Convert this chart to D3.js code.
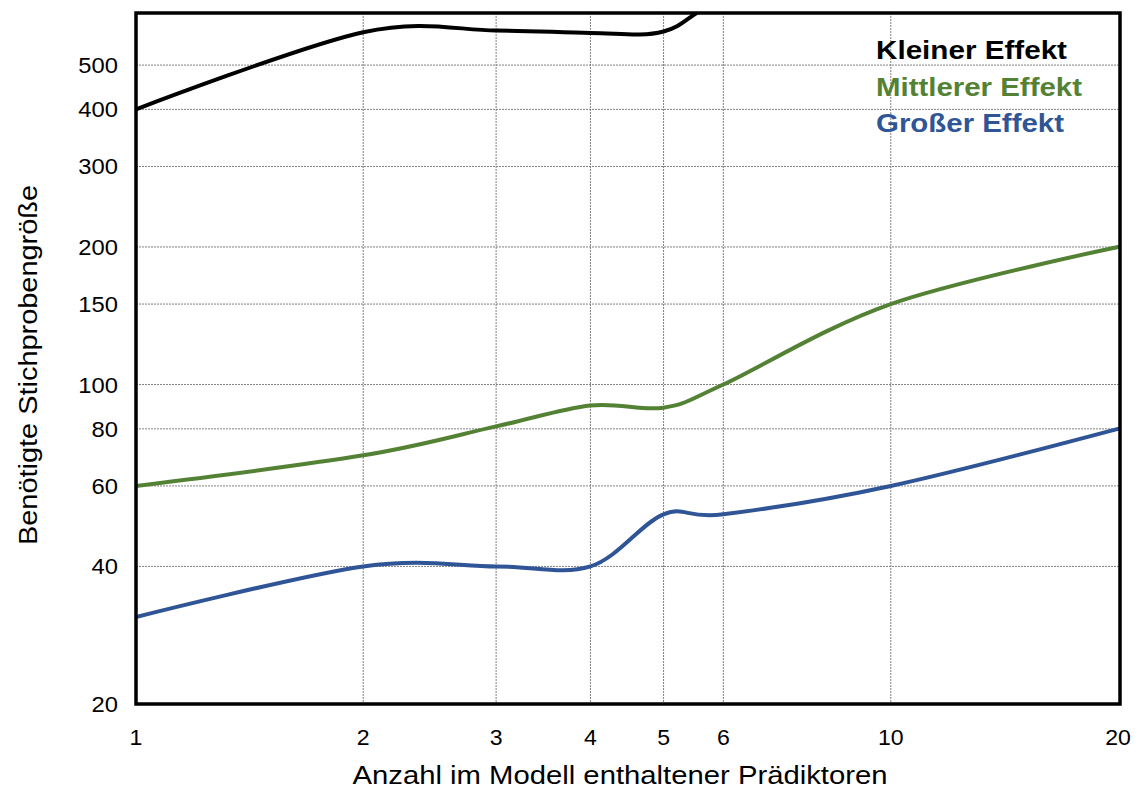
<!DOCTYPE html>
<html>
<head>
<meta charset="utf-8">
<script src="https://cdn.jsdelivr.net/npm/d3@7"></script>
<style>
    body { margin: 0; background: #fff; }
    text { font-family: "Liberation Sans", Arial, sans-serif; }
</style>
</head>
<body>
<div id="chart"></div>
<script>

// data (clipped values of the black line are guesses)
const predictors   = [1, 2, 3, 4, 5, 6, 10, 20];
const smallEffect  = [400, 590, 595, 588, 592, 700, 1000, 1500];
const mediumEffect = [60, 70, 81, 90, 89, 100, 150, 200];
const largeEffect  = [31, 40, 40, 40, 52, 52, 60, 80];

const xTicks = [1, 2, 3, 4, 5, 6, 10, 20];
const yTicks = [20, 40, 60, 80, 100, 150, 200, 300, 400, 500];

const seriesNames  = ["Kleiner Effekt", "Mittlerer Effekt", "Großer Effekt"];
const seriesColors = ["#000000", "#548235", "#2f5597"];
const legendWidths = [191, 206, 188];

const xTitle = "Anzahl im Modell enthaltener Prädiktoren";
const yTitle = "Benötigte Stichprobengröße";

// margin conventions
let margin = {top: 13, right: 18, bottom: 86, left: 136};
let width = 1138 - margin.left - margin.right;
let height = 790 - margin.top - margin.bottom;

let svg = d3.select("#chart").append("svg")
    .attr("width", 1138)
    .attr("height", 790);

let g = svg.append("g")
    .attr("transform", `translate(${margin.left}, ${margin.top})`);

let x = d3.scaleLog().domain([1, 20]).range([0, width - 2]);
let y = d3.scaleLog().domain([20, 650]).range([height, 0]);

// stretch text horizontally, the original labels are a bit wide
function stretch(sel, k) {
    sel.each(function() {
        let w = this.getComputedTextLength();
        d3.select(this).attr("textLength", w * k).attr("lengthAdjust", "spacingAndGlyphs");
    });
}

// grid
g.append("g").selectAll("line.v")
    .data(xTicks.filter(d => d > 1 && d < 20))
    .enter().append("line")
    .attr("x1", d => x(d)).attr("x2", d => x(d))
    .attr("y1", 0).attr("y2", height)
    .attr("stroke", "#808080").attr("stroke-width", 1)
    .attr("stroke-dasharray", "2,1");

g.append("g").selectAll("line.h")
    .data(yTicks.filter(d => d > 20))
    .enter().append("line")
    .attr("x1", 0).attr("x2", width)
    .attr("y1", d => y(d)).attr("y2", d => y(d))
    .attr("stroke", "#808080").attr("stroke-width", 1)
    .attr("stroke-dasharray", "2,1");

// clip for the lines
g.append("clipPath").attr("id", "plotClip")
    .append("rect").attr("x", 0).attr("y", 0).attr("width", width).attr("height", height);

let line = d3.line()
    .x(d => x(d[0]))
    .y(d => y(d[1]))
    .curve(d3.curveCardinal.tension(0));

let series = [smallEffect, mediumEffect, largeEffect];

g.append("g").attr("clip-path", "url(#plotClip)")
    .selectAll("path")
    .data(series)
    .enter().append("path")
    .attr("d", d => line(predictors.map((p, i) => [p, d[i]])))
    .attr("fill", "none")
    .attr("stroke", (d, i) => seriesColors[i])
    .attr("stroke-width", 4)
    .attr("stroke-linecap", "round");

// frame
g.append("rect")
    .attr("x", 0).attr("y", 0)
    .attr("width", width).attr("height", height)
    .attr("fill", "none")
    .attr("stroke", "#000")
    .attr("stroke-width", 3.5);

// tick labels
let yLabels = g.append("g").selectAll("text")
    .data(yTicks)
    .enter().append("text")
    .attr("x", -18)
    .attr("y", d => y(d) + 8)
    .attr("text-anchor", "end")
    .attr("font-size", 22)
    .attr("fill", "#000")
    .text(d => d);
stretch(yLabels, 1.08);

let xLabels = g.append("g").selectAll("text")
    .data(xTicks)
    .enter().append("text")
    .attr("x", d => x(d))
    .attr("y", height + 41)
    .attr("text-anchor", "middle")
    .attr("font-size", 22)
    .attr("fill", "#000")
    .text(d => d);
stretch(xLabels, 1.05);

// axis titles
svg.append("text")
    .attr("x", 620).attr("y", 784)
    .attr("text-anchor", "middle")
    .attr("font-size", 25)
    .attr("textLength", 535).attr("lengthAdjust", "spacingAndGlyphs")
    .text(xTitle);

svg.append("text")
    .attr("transform", "translate(37, 365) rotate(-90)")
    .attr("text-anchor", "middle")
    .attr("font-size", 26)
    .attr("textLength", 360).attr("lengthAdjust", "spacingAndGlyphs")
    .text(yTitle);

// legend
svg.append("g").selectAll("text")
    .data(seriesNames)
    .enter().append("text")
    .attr("x", 876)
    .attr("y", (d, i) => 59 + i * 36.5)
    .attr("font-size", 25)
    .attr("font-weight", "bold")
    .attr("fill", (d, i) => seriesColors[i])
    .attr("textLength", (d, i) => legendWidths[i])
    .attr("lengthAdjust", "spacingAndGlyphs")
    .text(d => d);

</script>
</body>
</html>
